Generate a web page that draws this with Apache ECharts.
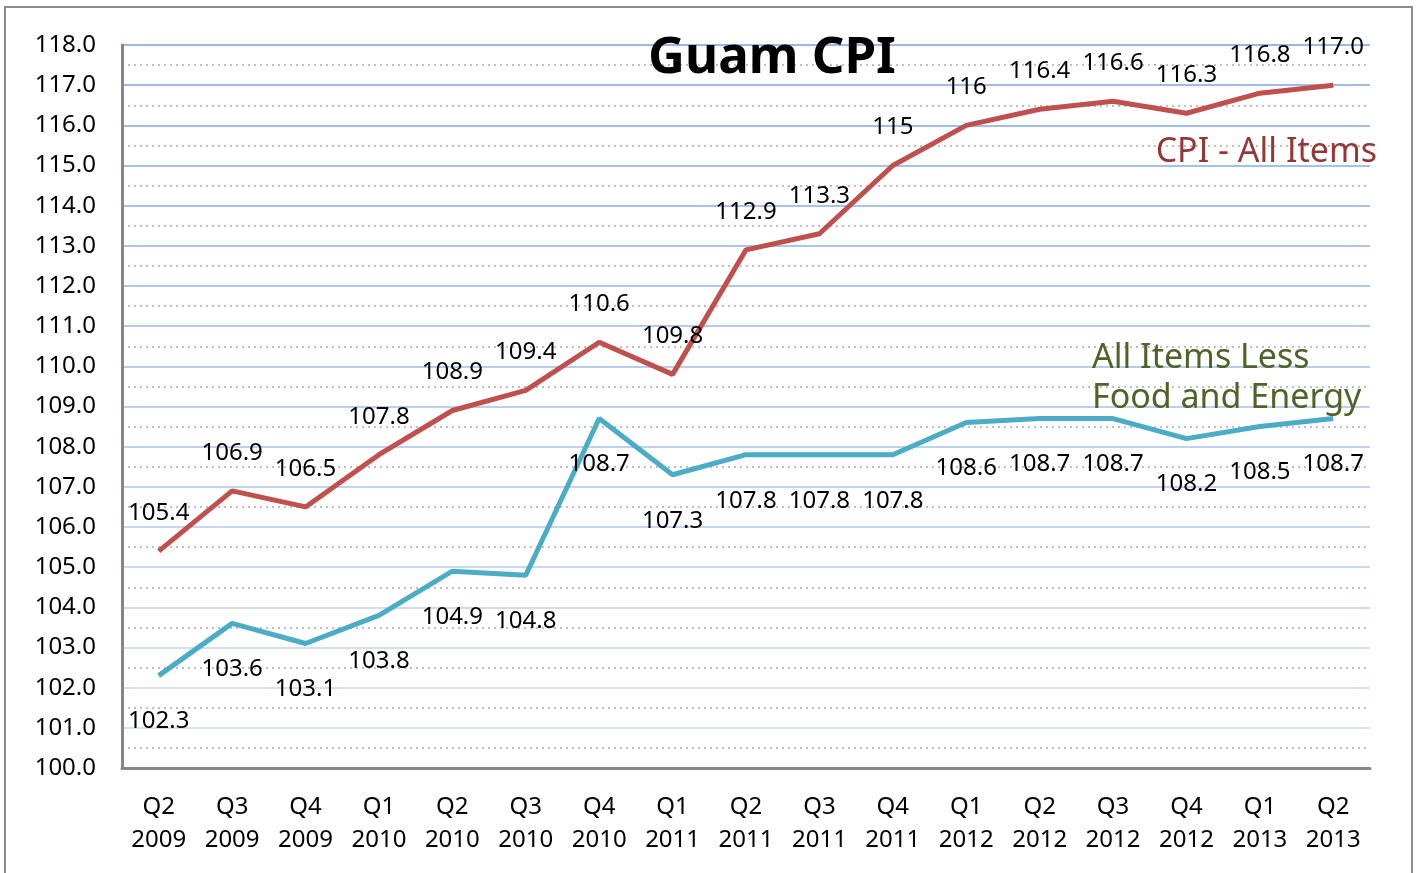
<!DOCTYPE html>
<html><head><meta charset="UTF-8">
<title>Guam CPI</title>
<script src="https://cdn.jsdelivr.net/npm/echarts@6/dist/echarts.min.js"></script>
<style>
  *{padding:0;margin:0;}
  html,body{width:100%;height:100%;background:#fff;}
  #main{width:1422px;height:873px;}
</style>
</head>
<body>
<div id="main"></div>
<script>
// quarters on the x axis
var quarters = ['Q2\n2009','Q3\n2009','Q4\n2009','Q1\n2010','Q2\n2010','Q3\n2010','Q4\n2010','Q1\n2011',
                'Q2\n2011','Q3\n2011','Q4\n2011','Q1\n2012','Q2\n2012','Q3\n2012','Q4\n2012','Q1\n2013','Q2\n2013'];
// CPI - All Items
var cpiAll = [105.4,106.9,106.5,107.8,108.9,109.4,110.6,109.8,112.9,113.3,115,116,116.4,116.6,116.3,116.8,117.0];
var cpiAllText = ['105.4','106.9','106.5','107.8','108.9','109.4','110.6','109.8','112.9','113.3','115','116','116.4','116.6','116.3','116.8','117.0'];
// All Items Less Food and Energy
var cpiCore = [102.3,103.6,103.1,103.8,104.9,104.8,108.7,107.3,107.8,107.8,107.8,108.6,108.7,108.7,108.2,108.5,108.7];

var FONT = '"Noto Sans", sans-serif';

// major grid lines go a bit lighter toward the bottom
var gridColors = [];
for (var i = 0; i <= 18; i++) {
    var t = i / 18;
    var r = Math.round(0xdd + (0x9c - 0xdd) * t);
    var g = Math.round(0xe5 + (0xb8 - 0xe5) * t);
    var b = Math.round(0xf5 + (0xe2 - 0xf5) * t);
    gridColors.push('rgb(' + r + ',' + g + ',' + b + ')');
}

var chart = echarts.init(document.getElementById('main'));
chart.setOption({
    animation: false,
    backgroundColor: '#fff',
    title: {
        text: 'Guam CPI',
        left: 767, top: 28, textAlign: 'center',
        textStyle: {fontFamily: FONT, fontSize: 51, fontWeight: 'bold', color: '#000'}
    },
    grid: {left: 122, top: 45, right: 52, bottom: 105},
    xAxis: {
        type: 'category',
        data: quarters,
        boundaryGap: true,
        axisLine: {lineStyle: {color: '#868686', width: 3}},
        axisTick: {show: false},
        axisLabel: {fontFamily: FONT, fontSize: 24, color: '#000', margin: 23, lineHeight: 33, interval: 0}
    },
    yAxis: {
        type: 'value',
        min: 100, max: 118, interval: 1,
        axisLine: {show: true, lineStyle: {color: '#868686', width: 3}},
        axisTick: {show: false},
        axisLabel: {fontFamily: FONT, fontSize: 24, color: '#000', margin: 26,
            formatter: function (v) { return v.toFixed(1); }},
        splitLine: {lineStyle: {color: gridColors, width: 2}},
        minorTick: {show: false, splitNumber: 2},
        minorSplitLine: {show: true, lineStyle: {color: '#aaa', type: [2, 4], width: 1.5}}
    },
    series: [
        {
            name: 'CPI - All Items',
            type: 'line',
            data: cpiAll,
            symbol: 'circle',
            symbolSize: 0,
            showSymbol: true,
            lineStyle: {color: '#c0504d', width: 5},
            itemStyle: {color: '#c0504d'},
            label: {
                show: true, position: 'top', distance: 26,
                fontFamily: FONT, fontSize: 24, color: '#000',
                formatter: function (p) { return cpiAllText[p.dataIndex]; }
            },
            z: 3
        },
        {
            name: 'All Items Less Food and Energy',
            type: 'line',
            data: cpiCore,
            symbol: 'circle',
            symbolSize: 0,
            showSymbol: true,
            lineStyle: {color: '#4bacc6', width: 5},
            itemStyle: {color: '#4bacc6'},
            label: {
                show: true, position: 'bottom', distance: 34,
                fontFamily: FONT, fontSize: 24, color: '#000',
                formatter: function (p) { return p.value.toFixed(1); }
            },
            z: 3
        }
    ],
    graphic: [
        {type: 'rect', shape: {x: 5, y: 7, width: 1407, height: 880},
         style: {fill: 'none', stroke: '#8c8c8c', lineWidth: 2}, z: 10},
        {type: 'text', right: 45, top: 135, z: 100,
         style: {text: 'CPI - All Items', font: '34px "Noto Sans", sans-serif', fill: '#953735'}},
        {type: 'text', left: 1092, top: 338, z: 100,
         style: {text: 'All Items Less\nFood and Energy', font: '34px "Noto Sans", sans-serif', lineHeight: 40, fill: '#4f6228'}}
    ]
});
</script>
</body></html>
